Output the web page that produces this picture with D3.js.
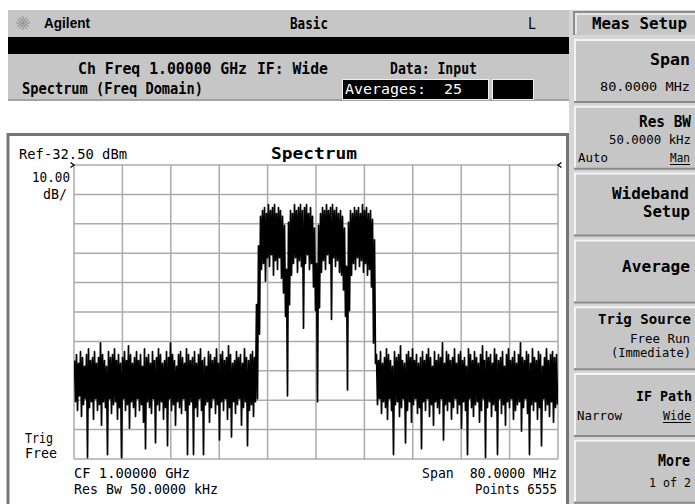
<!DOCTYPE html>
<html><head><meta charset="utf-8">
<script src="https://cdn.jsdelivr.net/npm/d3@7"></script>
<style>
html,body{margin:0;padding:0;background:#fff;overflow:hidden}
svg{display:block}
</style></head><body>
<script>
// ---------------- data ----------------
const startFreqMHz = 960;          // CF 1.00000 GHz, span 80 MHz
const spanMHz = 80;
const refLevel = -32.5;            // dBm (top of grid)
const dbPerDiv = 10;
const freqTicks = d3.range(0, 11).map(i => startFreqMHz + i * spanMHz / 10);
const levelTicks = d3.range(0, 11).map(i => refLevel - i * dbPerDiv);

// trace envelope per display column (max / min in dBm)
const tracePeak = [
 -99,-97,-100,-96,-98,-101,-97,-95,-99,-98,
 -96,-100,-98,-93,-97,-99,-101,-96,-98,-97,
 -95,-99,-97,-100,-98,-96,-99,-94,-97,-100,
 -98,-96,-99,-97,-101,-95,-98,-97,-100,-96,
 -99,-98,-95,-97,-100,-99,-96,-98,-93,-97,
 -99,-101,-97,-96,-98,-100,-95,-97,-99,-98,
 -96,-100,-97,-95,-99,-98,-101,-96,-97,-99,
 -98,-95,-100,-97,-96,-99,-98,-94,-97,-100,
 -99,-96,-98,-97,-100,-95,-98,-99,-97,-96,
 -98,-80,
 -60,-50,-48,-47,-49,-46,-48,-47,-46,-49,-47,-48,-50,-53,-68,
 -52,-48,-49,-46,-48,-47,-46,-48,-47,-46,-49,-47,-50,-54,-66,
 -53,-49,-47,-48,-46,-48,-47,-46,-48,-47,-49,-48,-50,-54,-67,
 -52,-48,-49,-47,-48,-47,-49,-46,-48,-47,-49,-48,-51,-58,
 -97,-99,-96,-100,-98,-95,-97,-99,-101,-96,
 -98,-97,-94,-99,-100,-97,-96,-98,-95,-99,
 -97,-100,-98,-96,-99,-97,-95,-98,-101,-96,
 -99,-97,-98,-93,-100,-96,-97,-99,-98,-95,
 -100,-97,-96,-99,-98,-101,-95,-97,-99,-96,
 -98,-100,-97,-94,-99,-96,-98,-97,-100,-95,
 -97,-99,-98,-96,-101,-97,-95,-99,-98,-96,
 -100,-97,-93,-98,-99,-96,-97,-100,-95,-98,
 -99,-96,-97,-101,-98,-95,-99,-97,-96,-98,
 -97
];
const traceFloor = [
 -113,-116,-111,-118,-114,-112,-132,-115,-113,-119,
 -112,-116,-114,-121,-113,-115,-131,-112,-117,-114,
 -113,-119,-115,-132,-112,-116,-114,-122,-113,-115,
 -118,-112,-116,-114,-120,-129,-113,-115,-117,-112,
 -127,-114,-116,-113,-119,-115,-128,-112,-116,-114,
 -121,-113,-115,-117,-112,-116,-131,-114,-113,-131,
 -115,-118,-112,-116,-131,-114,-113,-120,-115,-112,
 -117,-114,-126,-113,-116,-112,-119,-115,-125,-113,
 -117,-114,-112,-121,-115,-113,-128,-116,-114,-118,
 -113,-112,
 -90,-68,-66,-72,-64,-67,-63,-70,-65,-68,-64,-71,-76,-84,-111,
 -80,-70,-66,-64,-69,-65,-67,-88,-66,-63,-68,-66,-74,-82,-113,
 -81,-69,-65,-68,-63,-66,-85,-64,-67,-65,-69,-70,-75,-84,-109,
 -82,-70,-66,-68,-64,-67,-65,-69,-66,-70,-68,-74,-93,-100,
 -114,-112,-117,-113,-115,-119,-112,-116,-131,-114,
 -113,-118,-115,-112,-127,-116,-113,-120,-114,-112,
 -117,-115,-129,-113,-116,-112,-118,-114,-121,-113,
 -115,-117,-112,-126,-114,-116,-113,-119,-115,-112,
 -117,-114,-122,-113,-116,-131,-112,-115,-118,-114,
 -113,-120,-116,-112,-132,-115,-113,-118,-114,-116,
 -131,-112,-117,-114,-121,-113,-115,-112,-119,-116,
 -114,-113,-123,-115,-112,-117,-131,-114,-116,-113,
 -119,-115,-128,-112,-116,-114,-118,-113,-120,-115,
 -114
];

// screen texts
const titleTexts = ["Agilent", "Basic", "L"];
const infoTexts = ["Ch Freq 1.00000 GHz", "IF: Wide", "Data: Input", "Spectrum (Freq Domain)", "Averages:  25"];
const graphTexts = ["Ref-32.50 dBm", "Spectrum", "10.00", "dB/", "Trig", "Free",
  "CF 1.00000 GHz", "Res Bw 50.0000 kHz", "Span  80.0000 MHz", "Points 6555"];
const menuTitle = "Meas Setup";
const softkeys = [
  {title: ["Span"], sub: ["80.0000 MHz"]},
  {title: ["Res BW"], sub: ["50.0000 kHz"], toggle: ["Auto", "Man"]},
  {title: ["Wideband", "Setup"], sub: []},
  {title: ["Average"], sub: []},
  {title: ["Trig Source"], sub: ["Free Run", "(Immediate)"]},
  {title: ["IF Path"], sub: [], toggle: ["Narrow", "Wide"]},
  {title: ["More"], sub: ["1 of 2"]}
];

// ---------------- drawing ----------------
const W = 695, H = 504;
const GRAY = "#c6c6c6", DARK = "#767676", GRID = "#ababab";
const MONO = "DejaVu Sans Mono";

const svg = d3.select("body").append("svg").attr("width", W).attr("height", H);
svg.append("rect").attr("width", W).attr("height", H).attr("fill", "#fff");

function txt(s, x, y, o = {}) {
  const t = svg.append("text").attr("x", x).attr("y", y).text(s)
    .attr("font-family", o.family || MONO)
    .attr("font-size", o.size || 14)
    .attr("font-weight", o.bold ? "bold" : "normal")
    .attr("fill", o.fill || "#000")
    .style("white-space", "pre");
  if (o.len) t.attr("textLength", o.len).attr("lengthAdjust", "spacingAndGlyphs");
  if (o.anchor) t.attr("text-anchor", o.anchor);
  return t;
}

// left status panels
svg.append("rect").attr("x", 8).attr("y", 10).attr("width", 561).attr("height", 27).attr("fill", GRAY);
svg.append("rect").attr("x", 8).attr("y", 37).attr("width", 561).attr("height", 17).attr("fill", "#000");
svg.append("rect").attr("x", 8).attr("y", 54).attr("width", 561).attr("height", 46).attr("fill", GRAY);
svg.append("rect").attr("x", 8).attr("y", 99).attr("width", 561).attr("height", 2).attr("fill", "#a2a2a2");

// logo starburst
const logo = svg.append("g").attr("transform", "translate(23,23)");
d3.range(0, 12).forEach(k => {
  const a = k * Math.PI / 6;
  logo.append("line").attr("x1", 2 * Math.cos(a)).attr("y1", 2 * Math.sin(a))
    .attr("x2", 7 * Math.cos(a)).attr("y2", 7 * Math.sin(a))
    .attr("stroke", "#8a8a8a").attr("stroke-width", 1);
});
logo.append("circle").attr("r", 1.5).attr("fill", "#8a8a8a");

txt(titleTexts[0], 44, 28, {family: "Liberation Sans", bold: true, size: 15, len: 46});
txt(titleTexts[1], 290, 29, {bold: true, size: 15, len: 38});
txt(titleTexts[2], 528, 29, {size: 15, len: 8});

txt(infoTexts[0], 78, 74, {bold: true, size: 15, len: 169});
txt(infoTexts[1], 257, 74, {bold: true, size: 15, len: 71});
txt(infoTexts[2], 390, 74, {bold: true, size: 15, len: 87});
txt(infoTexts[3], 22, 94, {bold: true, size: 15, len: 181});
svg.append("rect").attr("x", 342.5).attr("y", 79.5).attr("width", 146).attr("height", 20)
  .attr("fill", "#000").attr("stroke", "#eeeeee").attr("stroke-width", 1);
svg.append("rect").attr("x", 492.5).attr("y", 79.5).attr("width", 41).attr("height", 20)
  .attr("fill", "#000").attr("stroke", "#eeeeee").attr("stroke-width", 1);
txt(infoTexts[4], 345, 94, {size: 14, len: 117, fill: "#fff"});

// graph panel border
svg.append("path").attr("d", "M8,504 V134.5 H567.5 V504").attr("fill", "none")
  .attr("stroke", DARK).attr("stroke-width", 3);

// scales
const x = d3.scaleLinear().domain([startFreqMHz, startFreqMHz + spanMHz]).range([74, 558]);
const y = d3.scaleLinear().domain([refLevel - 10 * dbPerDiv, refLevel]).range([459, 165]);

const grid = svg.append("g");
grid.selectAll("line.v").data(freqTicks).join("line")
  .attr("x1", d => x(d)).attr("x2", d => x(d)).attr("y1", y.range()[1]).attr("y2", y.range()[0])
  .attr("stroke", GRID).attr("stroke-width", 1.5);
grid.selectAll("line.h").data(levelTicks).join("line")
  .attr("y1", d => y(d)).attr("y2", d => y(d)).attr("x1", x.range()[0]).attr("x2", x.range()[1])
  .attr("stroke", GRID).attr("stroke-width", 1.5);

// trace
svg.append("clipPath").attr("id", "clip").append("rect")
  .attr("x", 74).attr("y", 165).attr("width", 484).attr("height", 294);
const nCol = tracePeak.length;
const colW = spanMHz / nCol;
const pts = [];
tracePeak.forEach((p, i) => {
  pts.push([startFreqMHz + (i + 0.25) * colW, p]);
  pts.push([startFreqMHz + (i + 0.75) * colW, traceFloor[i]]);
});
const line = d3.line().x(d => x(d[0])).y(d => y(d[1]));
svg.append("path").attr("d", line(pts)).attr("clip-path", "url(#clip)")
  .attr("fill", "none").attr("stroke", "#000").attr("stroke-width", 1.7)
  .attr("stroke-linejoin", "round");

// reference markers
svg.append("path").attr("d", "M70.5,162.5 L74,165 L70.5,167.5").attr("fill", "none").attr("stroke", "#000").attr("stroke-width", 1.3);
svg.append("path").attr("d", "M561.5,162.5 L558,165 L561.5,167.5").attr("fill", "none").attr("stroke", "#000").attr("stroke-width", 1.3);

txt(graphTexts[0], 19, 159, {size: 14, len: 108});
txt(graphTexts[1], 314, 159, {bold: true, size: 16, anchor: "middle", len: 86});
txt(graphTexts[2], 70, 182, {size: 14, anchor: "end", len: 38});
txt(graphTexts[3], 67, 199, {size: 14, anchor: "end", len: 24});
txt(graphTexts[4], 25, 443, {size: 14, len: 28});
txt(graphTexts[5], 25, 458, {size: 14, len: 32});
txt(graphTexts[6], 74, 478, {size: 14, len: 116});
txt(graphTexts[7], 74, 494, {size: 14, len: 144});
txt(graphTexts[8], 557, 478, {size: 14, anchor: "end", len: 135});
txt(graphTexts[9], 557, 494, {size: 14, anchor: "end", len: 82});

// softkey column
svg.append("rect").attr("x", 569).attr("y", 0).attr("width", 126).attr("height", H).attr("fill", "#d6d6d6");
svg.append("rect").attr("x", 569).attr("y", 0).attr("width", 126).attr("height", 10).attr("fill", "#fff");
// menu title
svg.append("rect").attr("x", 573).attr("y", 11).attr("width", 122).attr("height", 24).attr("fill", GRAY);
svg.append("path").attr("d", "M574,35 V12 H695").attr("fill", "none").attr("stroke", "#8c8c8c").attr("stroke-width", 2);
svg.append("path").attr("d", "M576,34 V14 H695").attr("fill", "none").attr("stroke", "#f2f2f2").attr("stroke-width", 1.5);
txt(menuTitle, 592, 29, {bold: true, size: 15, len: 95});

// [x, baseline, textLength, fontSize]
const keyTop = 39, keyPitch = 66.8, keyH = 62;
const keyLayout = [
  {t: [[650, 65, 40, 15]], s: [[600, 91, 90, 13]]},
  {t: [[639, 127, 52, 15]], s: [[609, 144, 82, 12.5]], g: [[578, 162, 30, 13], [670, 162, 20, 13]]},
  {t: [[612, 199, 77, 15], [643, 217, 47, 15]], s: []},
  {t: [[622, 272, 68, 15]], s: []},
  {t: [[598, 324, 93, 14.2]], s: [[630, 343, 60, 13], [611, 357, 80, 12.2]]},
  {t: [[636, 401, 56, 13.5]], s: [], g: [[577, 420, 45, 13], [663, 420, 28, 12]]},
  {t: [[658, 466, 32, 15]], s: [[649, 487, 42, 12]]}
];
softkeys.forEach((k, i) => {
  const top = keyTop + i * keyPitch;
  svg.append("rect").attr("x", 574).attr("y", top).attr("width", 121).attr("height", keyH).attr("fill", GRAY);
  svg.append("path").attr("d", `M575,${top + keyH} V${top + 1} H695`).attr("fill", "none").attr("stroke", "#f4f4f4").attr("stroke-width", 2);
  svg.append("path").attr("d", `M574,${top + keyH + 1} H695`).attr("fill", "none").attr("stroke", "#8a8a8a").attr("stroke-width", 2);
  const L = keyLayout[i];
  k.title.forEach((s, j) => txt(s, L.t[j][0], L.t[j][1], {bold: true, size: L.t[j][3], len: L.t[j][2]}));
  k.sub.forEach((s, j) => txt(s, L.s[j][0], L.s[j][1], {size: L.s[j][3], len: L.s[j][2]}));
  if (k.toggle) {
    k.toggle.forEach((s, j) => txt(s, L.g[j][0], L.g[j][1], {size: L.g[j][3], len: L.g[j][2]}));
    const u = L.g[1];
    svg.append("line").attr("x1", u[0]).attr("x2", u[0] + u[2]).attr("y1", u[1] + 2.5).attr("y2", u[1] + 2.5)
      .attr("stroke", "#000").attr("stroke-width", 1);
  }
});
</script>
</body></html>
